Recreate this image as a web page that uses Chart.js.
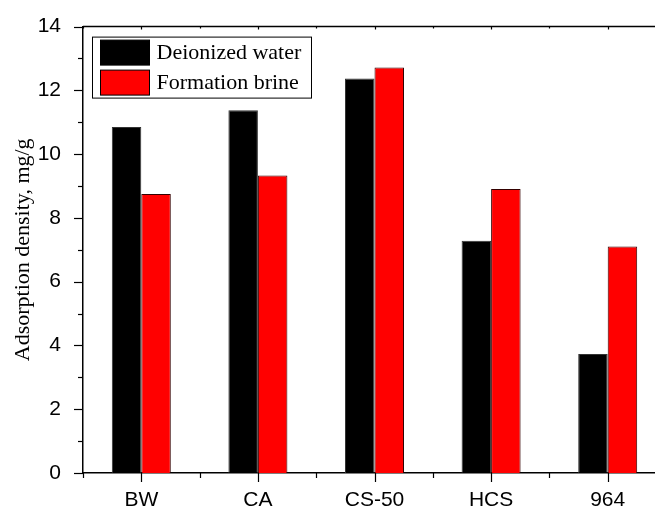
<!DOCTYPE html>
<html>
<head>
<meta charset="utf-8">
<style>
  html, body { margin: 0; padding: 0; overflow: hidden; background: #fff; }
  #wrap { width: 655px; height: 510px; overflow: hidden; position: relative; }
  #c { position: absolute; left: 0; top: 0; }
</style>
<script src="https://cdn.jsdelivr.net/npm/chart.js@4"></script>
</head>
<body>
<div id="wrap"><canvas id="c" width="680" height="510"></canvas></div>
<script>
// Adsorption density of each sample in two media
const categories = ['BW', 'CA', 'CS-50', 'HCS', '964'];
const deionizedWater = [10.85, 11.38, 12.37, 7.28, 3.73];
const formationBrine = [8.75, 9.33, 12.72, 8.91, 7.10];
const seriesNames = ['Deionized water', 'Formation brine'];
const seriesColors = ['#000000', '#ff0000'];
const yMin = 0, yMax = 14, yStep = 2;
const yTitle = 'Adsorption density, mg/g';

const SANS = '"Liberation Sans", Arial, sans-serif';
const SERIF = '"Liberation Serif", "Times New Roman", serif';

// Tick marks, top frame line and boxed legend drawn on top of the axes
const framePlugin = {
  id: 'frame',
  afterDraw(chart) {
    const ctx = chart.ctx;
    const area = chart.chartArea;
    const x = chart.scales.x, y = chart.scales.y;
    ctx.save();
    ctx.strokeStyle = '#000';
    ctx.lineWidth = 1.5;
    ctx.lineCap = 'butt';
    // frame top
    ctx.beginPath();
    ctx.moveTo(area.left, area.top);
    ctx.lineTo(area.right, area.top);
    ctx.stroke();

    ctx.lineWidth = 1.2;
    // y ticks: major on labelled values, minor halfway
    for (let v = yMin; v <= yMax; v += yStep / 2) {
      const py = Math.round(y.getPixelForValue(v)) + 0.5;
      const major = (v % yStep) === 0;
      ctx.beginPath();
      ctx.moveTo(area.left, py);
      ctx.lineTo(area.left - (major ? 9 : 5), py);
      ctx.stroke();
    }
    // x ticks: major at category centres, minor at boundaries
    for (let i = 0; i < categories.length; i++) {
      const pc = Math.round(x.getPixelForValue(i)) + 0.5;
      ctx.beginPath();
      ctx.moveTo(pc, area.bottom);
      ctx.lineTo(pc, area.bottom + 9);
      ctx.moveTo(pc, area.top);
      ctx.lineTo(pc, area.top + 3);
      ctx.stroke();
      const pb = Math.round(x.getPixelForValue(i - 0.5)) + 0.5;
      ctx.beginPath();
      ctx.moveTo(pb, area.bottom);
      ctx.lineTo(pb, area.bottom + 5);
      ctx.moveTo(pb, area.top);
      ctx.lineTo(pb, area.top + 2);
      ctx.stroke();
    }

    // boxed legend in the upper-left corner of the plot
    const lx = area.left + 9.5, ly = area.top + 10.5;
    const lw = 219, lh = 61;
    ctx.fillStyle = '#fff';
    ctx.fillRect(lx, ly, lw, lh);
    ctx.lineWidth = 1;
    ctx.strokeRect(lx, ly, lw, lh);
    ctx.font = '22px ' + SERIF;
    ctx.textBaseline = 'middle';
    chart.data.datasets.forEach((ds, i) => {
      const sy = ly + 3 + i * 30;
      ctx.fillStyle = ds.backgroundColor;
      ctx.fillRect(lx + 8, sy, 49, 25);
      ctx.strokeStyle = '#000';
      ctx.strokeRect(lx + 8, sy, 49, 25);
      ctx.fillStyle = '#000';
      ctx.fillText(ds.label, lx + 64, sy + 13);
    });
    ctx.restore();
  }
};

new Chart(document.getElementById('c'), {
  type: 'bar',
  data: {
    labels: categories,
    datasets: [
      { label: seriesNames[0], data: deionizedWater, backgroundColor: seriesColors[0],
        borderColor: '#333', borderWidth: 1 },
      { label: seriesNames[1], data: formationBrine, backgroundColor: seriesColors[1],
        borderColor: '#300', borderWidth: 1 }
    ]
  },
  options: {
    responsive: false,
    animation: false,
    layout: { padding: { top: 19, right: 14, left: 0, bottom: 0 } },
    datasets: { bar: { categoryPercentage: 0.506, barPercentage: 1.0 } },
    plugins: {
      legend: { display: false },
      tooltip: { enabled: false }
    },
    scales: {
      x: {
        type: 'category',
        offset: true,
        grid: { display: false },
        border: { display: true, color: '#000', width: 1.5 },
        ticks: { color: '#000', font: { family: SANS, size: 21 }, padding: 7, maxRotation: 0 },
        afterFit(scale) { scale.height = 37; }
      },
      y: {
        min: yMin,
        max: yMax,
        grid: { display: false },
        border: { display: true, color: '#000', width: 1.5 },
        ticks: { stepSize: yStep, color: '#000', font: { family: SANS, size: 21 }, padding: 14 },
        title: {
          display: true,
          text: yTitle,
          color: '#000',
          font: { family: SERIF, size: 22 },
          padding: { top: 10, bottom: 0 }
        },
        afterFit(scale) { scale.width = 83; }
      }
    }
  },
  plugins: [framePlugin]
});
</script>
</body>
</html>
